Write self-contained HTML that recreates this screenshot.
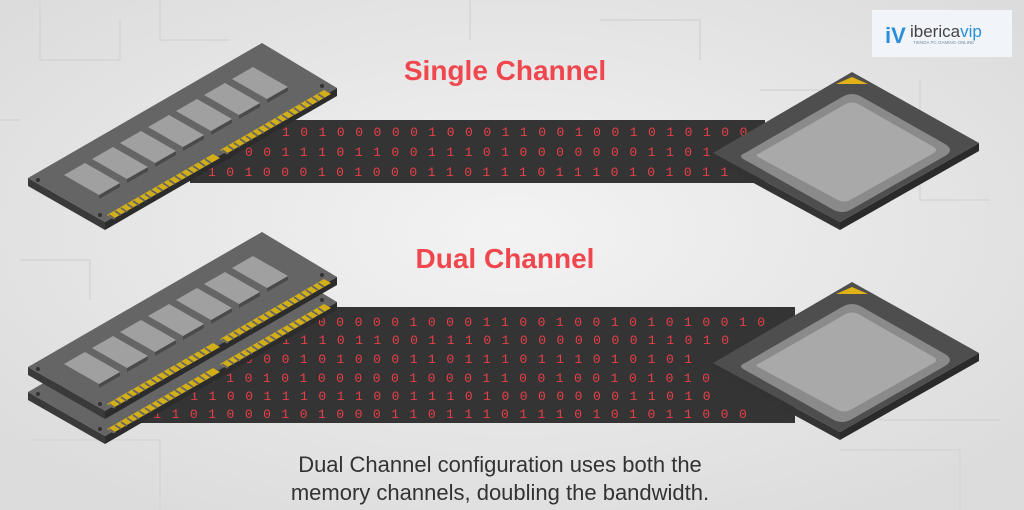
<!DOCTYPE html>
<html><head><meta charset="utf-8"><style>
html,body{margin:0;padding:0}
body{width:1024px;height:510px;overflow:hidden;background:#e4e4e4;font-family:"Liberation Sans",sans-serif}
svg{display:block}
.d{font-family:"Liberation Mono",monospace;font-size:13px;letter-spacing:1.35px;fill:#ea3f48}
.t{font-family:"Liberation Sans",sans-serif;font-weight:bold;fill:#f0474f;font-size:28px}
.c{font-family:"Liberation Sans",sans-serif;fill:#333;font-size:22px}
</style></head><body>
<svg width="1024" height="510" viewBox="0 0 1024 510" xmlns="http://www.w3.org/2000/svg">
<defs>
<radialGradient id="bg" cx="50%" cy="45%" r="65%">
<stop offset="0" stop-color="#f3f3f3"/><stop offset="1" stop-color="#dcdcdc"/>
</radialGradient>
</defs>
<rect width="1024" height="510" fill="url(#bg)"/>
<g stroke="#d6d6d6" stroke-width="2" fill="none" opacity="0.8">
<path d="M40 0 V60 H120 V20"/><path d="M160 0 V40 H230"/><path d="M600 20 H700 V60"/><path d="M920 80 V200 H990"/>
<path d="M20 260 H90 V300"/><path d="M880 300 V420 H1000"/><path d="M30 440 H160 V510"/><path d="M840 450 H960 V510"/>
<path d="M470 0 V40"/><path d="M760 90 H820"/><path d="M0 120 H20"/>
</g>

<rect x="190" y="120" width="575" height="63" fill="#343434"/>
<text class="d" x="282" y="136" xml:space="preserve">1 0 1 0 0 0 0 0 1 0 0 0 1 1 0 0 1 0 0 1 0 1 0 1 0 0</text>
<text class="d" x="245" y="156" xml:space="preserve">0 0 1 1 1 0 1 1 0 0 1 1 1 0 1 0 0 0 0 0 0 0 1 1 0 1</text>
<text class="d" x="208" y="176" xml:space="preserve">1 0 1 0 0 0 1 0 1 0 0 0 1 1 0 1 1 1 0 1 1 1 0 1 0 1 0 1 1</text>

<rect x="140" y="307" width="655" height="116" fill="#343434"/>
<text class="d" x="318" y="326" xml:space="preserve">0 0 0 0 0 1 0 0 0 1 1 0 0 1 0 0 1 0 1 0 1 0 0 1 0</text>
<text class="d" x="282" y="344" xml:space="preserve">1 1 1 0 1 1 0 0 1 1 1 0 1 0 0 0 0 0 0 0 1 1 0 1 0</text>
<text class="d" x="245" y="363" xml:space="preserve">0 0 0 1 0 1 0 0 0 1 1 0 1 1 1 0 1 1 1 0 1 0 1 0 1</text>
<text class="d" x="208" y="382" xml:space="preserve">0 1 0 1 0 1 0 0 0 0 0 1 0 0 0 1 1 0 0 1 0 0 1 0 1 0 1 0</text>
<text class="d" x="172" y="400" xml:space="preserve">1 1 1 0 0 1 1 1 0 1 1 0 0 1 1 1 0 1 0 0 0 0 0 0 0 1 1 0 1 0</text>
<text class="d" x="135" y="418" xml:space="preserve">1 1 1 0 1 0 0 0 1 0 1 0 0 0 1 1 0 1 1 1 0 1 1 1 0 1 0 1 0 1 1 0 0 0</text>

<g id="stick">
<polygon points="28,178 105,222 105,230 28,186" fill="#3a3a3a"/>
<polygon points="105,222 337,88 337,96 105,230" fill="#2c2c2c"/>
<polygon points="28,178 262,43 337,88 105,222" fill="#656565"/>
<circle cx="38" cy="180" r="2" fill="#333"/><circle cx="100" cy="215" r="2" fill="#333"/><circle cx="322" cy="86" r="2" fill="#333"/>
<g fill="#4a4a4a">
<polygon points="99,195 120,183 120,187 99,199"/><polygon points="127,179 148,167 148,171 127,183"/>
<polygon points="155,163 176,151 176,155 155,167"/><polygon points="183,147 204,135 204,139 183,151"/>
<polygon points="211,131 232,119 232,123 211,135"/><polygon points="239,115 260,103 260,107 239,119"/>
<polygon points="267,99 288,87 288,91 267,103"/>
</g>
<g fill="#a0a0a0">
<polygon points="64,175 85,163 120,183 99,195"/>
<polygon points="92,159 113,147 148,167 127,179"/>
<polygon points="120,143 141,131 176,151 155,163"/>
<polygon points="148,127 169,115 204,135 183,147"/>
<polygon points="176,111 197,99 232,119 211,131"/>
<polygon points="204,95 225,83 260,103 239,115"/>
<polygon points="232,79 253,67 288,87 267,99"/>
</g>
<polygon points="107,215 213,154 220,158 113,219" fill="#d2ae18"/>
<polygon points="220,150 324,90 331,94 226,154" fill="#d2ae18"/>
<g stroke="#656565" stroke-width="1.8">
<path d="M109 215l6 4M115 211l6 4M121 208l6 4M127 204l6 4M133 201l6 4M139 197l6 4M145 194l6 4M151 190l6 4M157 187l6 4M163 183l6 4M169 180l6 4M175 176l6 4M181 173l6 4M187 169l6 4M193 166l6 4M199 162l6 4M205 159l6 4M222 150l6 4M228 146l6 4M234 143l6 4M240 139l6 4M246 136l6 4M252 132l6 4M258 129l6 4M264 125l6 4M270 122l6 4M276 118l6 4M282 115l6 4M288 111l6 4M294 108l6 4M300 104l6 4M306 101l6 4M312 97l6 4M318 94l6 4"/>
</g>
</g>
<use href="#stick" transform="translate(0,214)"/>
<use href="#stick" transform="translate(0,189)"/>

<g id="cpu">
<polygon points="713,153 840,222 840,230 713,161" fill="#333"/>
<polygon points="840,222 979,143 979,151 840,230" fill="#2a2a2a"/>
<polygon points="713,153 852,72 979,143 840,222" fill="#4e4e4e"/>
<polygon points="836,84 852,77 868,84" fill="#e0b215"/>
<path d="M745 153 L842 97 Q852 91 862 97 L945 144 Q955 150 945 156 L852 209 Q842 215 832 209 L745 160 Q737 156 745 153Z" fill="#8a8a8a"/>
<path d="M760 153 L844 105 Q852 100 860 105 L932 146 Q940 150 932 154 L852 199 Q844 204 836 199 L760 158 Q753 155 760 153Z" fill="#a9a9a9"/>
</g>
<use href="#cpu" transform="translate(0,210)"/>

<text class="t" x="505" y="80" text-anchor="middle">Single Channel</text>
<text class="t" x="505" y="268" text-anchor="middle">Dual Channel</text>
<text class="c" x="500" y="472" text-anchor="middle">Dual Channel configuration uses both the</text>
<text class="c" x="500" y="500" text-anchor="middle">memory channels, doubling the bandwidth.</text>

<rect x="872" y="10" width="140" height="47" fill="#f1f5fa"/>
<text x="885" y="43" font-family="Liberation Sans,sans-serif" font-weight="bold" font-size="22" fill="#2a8fd8">iV</text>
<text x="910" y="37" font-family="Liberation Sans,sans-serif" font-size="17" fill="#444">iberica<tspan fill="#2a8fd8">vip</tspan></text>
<text x="913" y="44" font-family="Liberation Sans,sans-serif" font-size="4.5" fill="#7a8ca0">TIENDA PC GAMING ONLINE</text>
</svg>
</body></html>
